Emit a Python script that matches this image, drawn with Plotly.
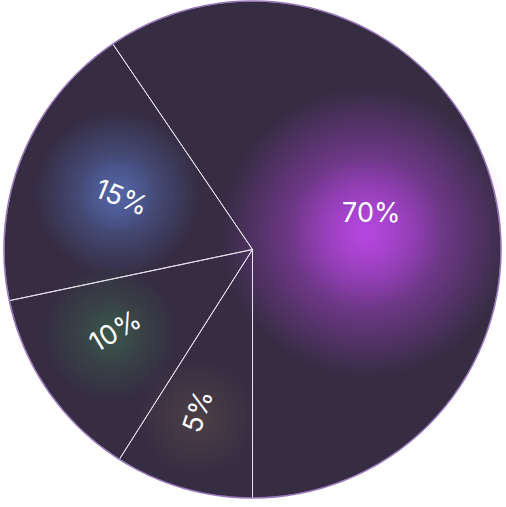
import math
import plotly.graph_objects as go

# ---- data (slice values as drawn, labels as printed) ----
categories = ["A", "B", "C", "D"]
values = [59.5, 18.8, 12.7, 9.0]
labels = ["70%", "15%", "10%", "5%"]

# ---- style ----
W, H = 506, 507
ML, MR, MT, MB = 4, 5, 1, 9
PW, PH = W - ML - MR, H - MT - MB
CX, CY = PW / 2, PH / 2
R = min(PW, PH) / 2
DISC = "#362d43"
LINE = "rgba(232,228,238,0.95)"
FONT = dict(family="Inter, Lato, sans-serif", size=27, color="#ffffff")
LABEL_RFRAC = [None, 0.565, 0.64, 0.685]   # radial label distance (fraction of radius)
LABEL_ASHIFT = [0, 0, 4, 2.5]              # small angular nudge (deg) of label position

# small slices end at 6 o'clock; first (large) slice ends at the rotation angle
TOTAL = sum(values)
ROTATION = 180 - 360 * values[0] / TOTAL

# glow decorations: (dx, dy from pie centre in px, rgb, [(diameter, alpha), ...])
GLOWS = [
    (114, -17, (192, 72, 236), [(290, 0.85), (150, 0.55)]),
    (-135, -56, (86, 108, 178), [(165, 0.85), (80, 0.4)]),
    (-142, 84, (60, 96, 76), [(135, 0.75), (60, 0.25)]),
    (-55, 168, (84, 70, 70), [(120, 0.75)]),
]

fig = go.Figure()

# glows (drawn under transparent pie)
for dx, dy, (r, g, b), layers in GLOWS:
    for d, a in layers:
        fig.add_trace(go.Scatter(
            x=[CX + dx], y=[CY + dy], mode="markers", hoverinfo="skip",
            showlegend=False,
            marker=dict(size=d, color=f"rgba({r},{g},{b},0)",
                        gradient=dict(type="radial", color=f"rgba({r},{g},{b},{a})"),
                        line=dict(width=0)),
        ))

common = dict(
    labels=categories, values=values, sort=False, direction="counterclockwise",
    rotation=ROTATION, hoverinfo="skip", showlegend=False,
)

# main pie: slice outlines + horizontal label for the large slice
fig.add_trace(go.Pie(
    **common,
    text=[labels[0], "", "", ""],
    textinfo="text", textposition="inside",
    insidetextorientation="horizontal",
    insidetextfont=FONT,
    marker=dict(colors=["rgba(0,0,0,0)"] * 4, line=dict(color=LINE, width=1)),
))

# radial labels for the smaller slices, placed at each slice's mid-angle
annotations = []
cum = 0.0
for i in range(1, len(values)):
    start = cum
    cum += values[i]
    mid = ROTATION - (start + cum) / 2 * 360 / TOTAL + LABEL_ASHIFT[i]  # deg clockwise from 12 o'clock
    mid %= 360
    rr = LABEL_RFRAC[i] * R
    th = math.radians(mid)
    annotations.append(dict(
        x=CX + rr * math.sin(th), y=CY - rr * math.cos(th), xref="x", yref="y",
        text=labels[i], showarrow=False, font=FONT, textangle=mid - 270,
        xanchor="center", yanchor="middle",
    ))

fig.update_layout(
    width=W, height=H,
    margin=dict(l=ML, r=MR, t=MT, b=MB, pad=0),
    paper_bgcolor="white", plot_bgcolor="rgba(0,0,0,0)",
    xaxis=dict(range=[0, PW], visible=False, fixedrange=True),
    yaxis=dict(range=[PH, 0], visible=False, fixedrange=True),
    annotations=annotations,
    shapes=[
        dict(type="circle", xref="paper", yref="paper", x0=0, x1=1, y0=0, y1=1,
             fillcolor=DISC, line=dict(width=0), layer="below"),
        dict(type="circle", xref="paper", yref="paper", x0=0, x1=1, y0=0, y1=1,
             fillcolor="rgba(0,0,0,0)", line=dict(color="rgba(138,100,176,0.85)", width=1.6),
             layer="above"),
    ],
)

fig.write_html("out.html")
